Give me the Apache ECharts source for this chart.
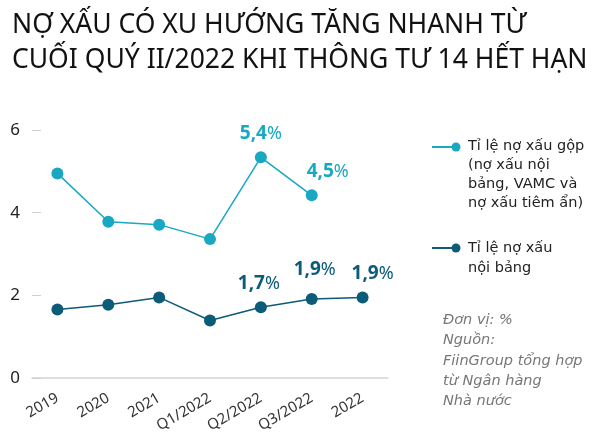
<!DOCTYPE html>
<html><head><meta charset="utf-8">
<script src="https://cdn.jsdelivr.net/npm/echarts@6/dist/echarts.min.js"></script>
<style>html,body{margin:0;padding:0;background:#fff}#c{width:600px;height:438px}</style>
</head><body><div id="c"></div>
<script>
const categories = ['2019', '2020', '2021', 'Q1/2022', 'Q2/2022', 'Q3/2022', '2022'];
const grossNpl = [4.95, 3.78, 3.71, 3.36, 5.34, 4.42, null];
const onBalanceNpl = [1.66, 1.77, 1.95, 1.39, 1.71, 1.91, 1.95];
const grossLabels = [null, null, null, null, '5,4', '4,5', null];
const onBalanceLabels = [null, null, null, null, '1,7', '1,9', '1,9'];
const yTicks = [0, 2, 4, 6];
const seriesNames = ['Tỉ lệ nợ xấu gộp\n(nợ xấu nội\nbảng, VAMC và\nnợ xấu tiêm ẩn)', 'Tỉ lệ nợ xấu\nnội bảng'];
const titleText = 'NỢ XẤU CÓ XU HƯỚNG TĂNG NHANH TỪ\nCUỐI QUÝ II/2022 KHI THÔNG TƯ 14 HẾT HẠN';
const noteText = 'Đơn vị: %\nNguồn:\nFiinGroup tổng hợp\ntừ Ngân hàng\nNhà nước';

const C1 = '#19a8c2', C2 = '#0b5b79';
const FONT = 'DejaVu Sans';
const FONT2 = 'Noto Sans';
// label offsets (presentation only)
const off1 = [null, null, null, null, [0, 0], [16, 0], null];
const off2 = [null, null, null, null, [-2, 0], [3, -6], [10, 0]];

function build(values, labels, offs, color) {
  return values.map((v, i) => {
    const d = { value: v };
    if (labels[i]) {
      d.label = {
        show: true, position: 'top', distance: 8, offset: offs[i],
        formatter: '{n|' + labels[i] + '}{p|%}',
        rich: {
          n: { fontFamily: FONT2, fontWeight: 'bold', fontSize: 19, color: color },
          p: { fontFamily: FONT2, fontWeight: 'normal', fontSize: 18, color: color }
        }
      };
    }
    return d;
  });
}

const chart = echarts.init(document.getElementById('c'));
const legendX = 432;
chart.setOption({
  animation: false,
  title: {
    text: titleText, left: 7, top: 3,
    textStyle: { fontFamily: FONT2, fontWeight: 'normal', fontSize: 26.5, color: '#111', lineHeight: 35 }
  },
  grid: { left: 32, right: 212, top: 130, bottom: 60 },
  xAxis: {
    type: 'category', data: categories, boundaryGap: true,
    axisLine: { lineStyle: { color: '#d4d4d4', width: 1.5 } },
    axisTick: { alignWithLabel: true, length: 6, lineStyle: { color: '#d4d4d4', width: 1.5 } },
    axisLabel: { rotate: 30, fontFamily: FONT2, fontSize: 15, color: '#333', margin: 19 }
  },
  yAxis: {
    type: 'value', min: yTicks[0], max: yTicks[yTicks.length - 1], interval: 2,
    splitLine: { show: false },
    axisLine: { show: false },
    axisTick: { show: true, inside: true, length: 9, lineStyle: { color: '#cfcfcf', width: 1 } },
    axisLabel: { fontFamily: FONT2, fontSize: 17, color: '#222', margin: 12, verticalAlign: 'middle', padding: [0, 0, 10, 0] }
  },
  series: [
    { name: seriesNames[0], type: 'line', data: build(grossNpl, grossLabels, off1, C1),
      symbol: 'circle', symbolSize: 12, itemStyle: { color: C1 }, lineStyle: { color: C1, width: 1.5 } },
    { name: seriesNames[1], type: 'line', data: build(onBalanceNpl, onBalanceLabels, off2, C2),
      symbol: 'circle', symbolSize: 12, itemStyle: { color: C2 }, lineStyle: { color: C2, width: 1.5 } }
  ],
  graphic: [
    { type: 'line', shape: { x1: legendX, y1: 147, x2: legendX + 22, y2: 147 }, style: { stroke: C1, lineWidth: 2 } },
    { type: 'circle', shape: { cx: legendX + 24, cy: 147, r: 4.5 }, style: { fill: C1 } },
    { type: 'text', left: legendX + 36, top: 137, style: { text: seriesNames[0], fontFamily: FONT, fontSize: 14.5, lineHeight: 19, fill: '#222' } },
    { type: 'line', shape: { x1: legendX, y1: 248, x2: legendX + 22, y2: 248 }, style: { stroke: C2, lineWidth: 2 } },
    { type: 'circle', shape: { cx: legendX + 24, cy: 248, r: 4.5 }, style: { fill: C2 } },
    { type: 'text', left: legendX + 36, top: 238, style: { text: seriesNames[1], fontFamily: FONT, fontSize: 14.5, lineHeight: 20, fill: '#222' } },
    { type: 'text', left: 443, top: 310, style: { text: noteText, fontFamily: FONT, fontStyle: 'italic', fontSize: 14.5, lineHeight: 20.3, fill: '#777' } }
  ]
});
</script></body></html>
